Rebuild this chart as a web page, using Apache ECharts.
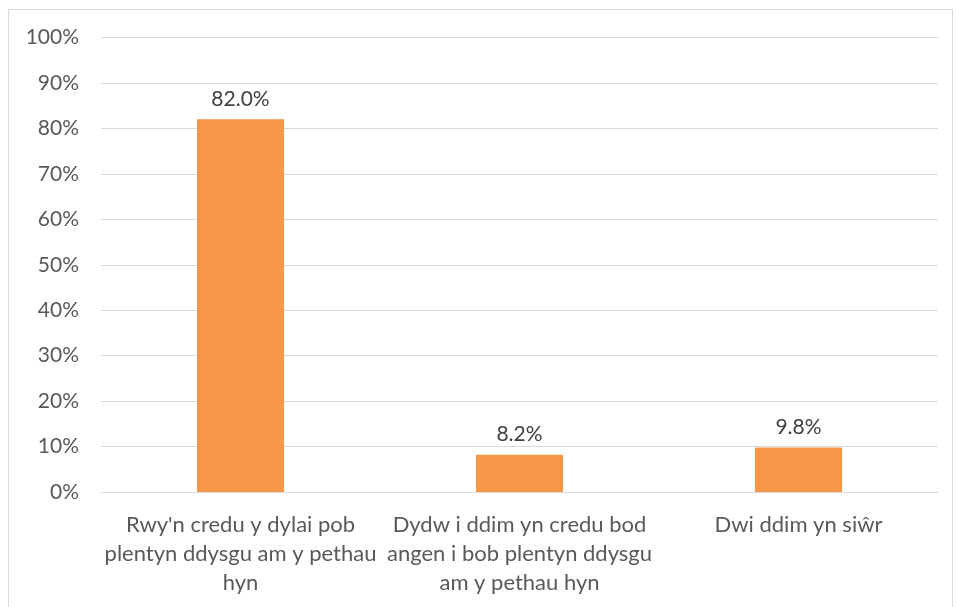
<!DOCTYPE html>
<html>
<head>
<meta charset="utf-8">
<script src="https://cdn.jsdelivr.net/npm/echarts@6/dist/echarts.min.js"></script>
<style>
html,body{margin:0;padding:0;background:#fff;}
#frame{position:absolute;left:8px;top:9px;width:945px;height:600px;border:1px solid #d9d9d9;box-sizing:border-box;}
#chart{position:absolute;left:0;top:0;width:956px;height:607px;}
</style>
</head>
<body>
<div id="frame"></div>
<div id="chart"></div>
<script>
const categories = [
  "Rwy'n credu y dylai pob\nplentyn ddysgu am y pethau\nhyn",
  "Dydw i ddim yn credu bod\nangen i bob plentyn ddysgu\nam y pethau hyn",
  "Dwi ddim yn siŵr"
];
const values = [82.0, 8.2, 9.8];
const yTicks = [0, 10, 20, 30, 40, 50, 60, 70, 80, 90, 100];

const font = "Lato, 'Open Sans', sans-serif";
const chart = echarts.init(document.getElementById('chart'), null, {renderer: 'canvas'});
chart.setOption({
  animation: false,
  grid: {left: 101, right: 18, top: 37.5, bottom: 115, containLabel: false},
  xAxis: {
    type: 'category',
    data: categories,
    axisLine: {show: true, lineStyle: {color: '#d9d9d9', width: 1}},
    axisTick: {show: false},
    axisLabel: {
      interval: 0,
      color: '#595959',
      fontFamily: font,
      fontSize: 22,
      lineHeight: 29,
      margin: 18
    }
  },
  yAxis: {
    type: 'value',
    min: yTicks[0],
    max: yTicks[yTicks.length - 1],
    interval: 10,
    axisLine: {show: false},
    axisTick: {show: false},
    splitLine: {lineStyle: {color: '#d9d9d9', width: 1}},
    axisLabel: {
      color: '#595959',
      fontFamily: font,
      fontSize: 21,
      margin: 22,
      formatter: v => v + '%'
    }
  },
  series: [{
    type: 'bar',
    data: values,
    barWidth: 87,
    itemStyle: {color: '#F79646'},
    label: {
      show: true,
      position: 'top',
      distance: 10,
      color: '#404040',
      fontFamily: font,
      fontSize: 21,
      formatter: p => p.value.toFixed(1) + '%'
    }
  }]
});
</script>
</body>
</html>
